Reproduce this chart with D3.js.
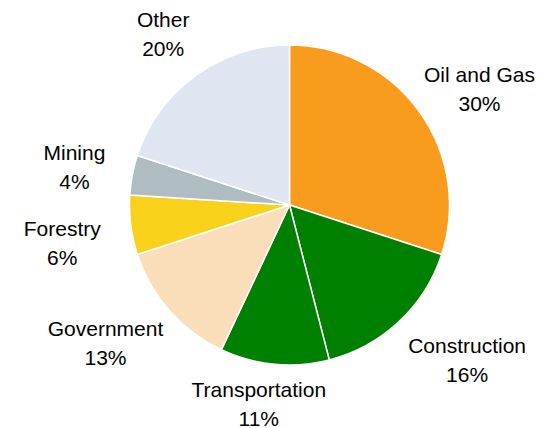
<!DOCTYPE html>
<html>
<head>
<meta charset="utf-8">
<script src="https://cdn.jsdelivr.net/npm/d3@7"></script>
<style>
  html, body { margin: 0; padding: 0; background: #fff; }
  svg { display: block; }
</style>
</head>
<body>
<svg id="chart" width="537" height="428"></svg>
<script>
const categories = ["Oil and Gas", "Construction", "Transportation", "Government", "Forestry", "Mining", "Other"];
const values = [30, 16, 11, 13, 6, 4, 20];
const colors = ["#F99B1C", "#008000", "#008000", "#FADEB9", "#F9D11A", "#AFBDC3", "#DFE6F2"];
// label layout nudges (px) relative to the radial anchor
const labelNudge = [[12, 21], [27, 2], [-10, -13], [-19, 0.5], [-9, 18], [1, 11], [3, 14.5]];

const svg = d3.select("#chart");
const cx = 289.5, cy = 205, R = 160, labelR = 220;
const g = svg.append("g").attr("transform", `translate(${cx},${cy})`);

const pie = d3.pie().sort(null).value(d => d.v).startAngle(0).endAngle(2 * Math.PI);
const data = categories.map((c, i) => ({ c, v: values[i], i }));
const arcs = pie(data);
const arc = d3.arc().innerRadius(0).outerRadius(R);

g.selectAll("path.slice")
  .data(arcs)
  .join("path")
  .attr("class", "slice")
  .attr("d", arc)
  .attr("fill", d => colors[d.data.i])
  .attr("stroke", "#fff")
  .attr("stroke-width", 1.5)
  .attr("stroke-linejoin", "round");

const total = d3.sum(values);
g.selectAll("text.lbl")
  .data(arcs)
  .join("text")
  .attr("class", "lbl")
  .attr("text-anchor", "middle")
  .attr("font-family", "'Liberation Sans', Arial, sans-serif")
  .attr("font-size", 21)
  .attr("fill", "#000")
  .each(function(d) {
    const a = (d.startAngle + d.endAngle) / 2;
    const n = labelNudge[d.data.i];
    const x = labelR * Math.sin(a) + n[0];
    const y = -labelR * Math.cos(a) + n[1];
    const t = d3.select(this);
    t.append("tspan").attr("x", x).attr("y", y - 14.5).text(d.data.c);
    t.append("tspan").attr("x", x).attr("y", y + 14.5).text(Math.round(d.data.v / total * 100) + "%");
  });
</script>
</body>
</html>
